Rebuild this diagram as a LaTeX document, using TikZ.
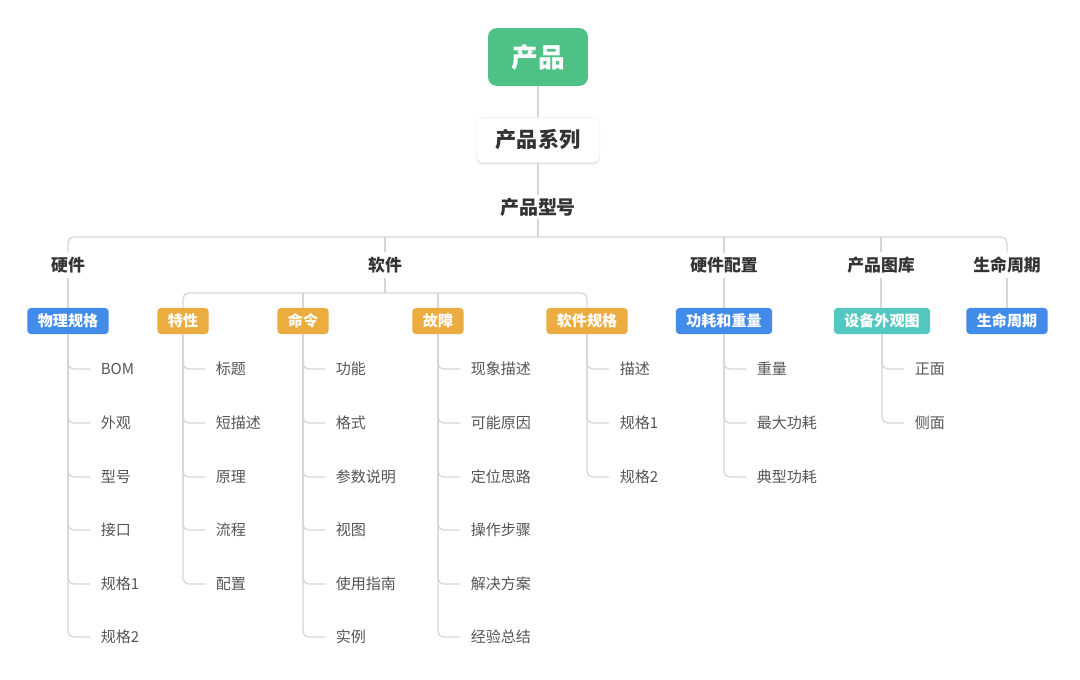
\documentclass[tikz,border=0pt]{standalone}
\usepackage{fontspec}
\setmainfont{Noto Sans CJK SC}
\usetikzlibrary{shadows}
\definecolor{lineg}{RGB}{214,214,214}
\definecolor{txt}{RGB}{51,51,51}
\definecolor{leaftxt}{RGB}{85,85,85}
\definecolor{greenbox}{RGB}{78,194,134}
\definecolor{bluebox}{RGB}{66,139,232}
\definecolor{orangebox}{RGB}{235,172,64}
\definecolor{tealbox}{RGB}{84,200,192}
\begin{document}
\begin{tikzpicture}[x=0.025cm, y=-0.025cm,
  root/.style = {fill=greenbox, text=white, font=\fontsize{19}{21}\selectfont\bfseries, rounded corners=6pt, minimum width=71pt, minimum height=41pt},
  series/.style = {fill=white, draw=black!6, text=txt, font=\fontsize{15}{17}\selectfont\bfseries, rounded corners=5pt, minimum width=88pt, minimum height=32pt, drop shadow={opacity=0.18, shadow xshift=0pt, shadow yshift=-1.5pt}},
  model/.style = {text=txt, font=\fontsize{13.5}{15}\selectfont\bfseries, inner sep=2pt},
  group/.style = {text=txt, font=\fontsize{12}{14}\selectfont\bfseries, inner sep=3pt},
  tag/.style = {text=white, font=\fontsize{10.7}{12}\selectfont\bfseries, rounded corners=2.5pt, inner xsep=7.5pt, inner ysep=0pt, minimum height=18.5pt},
  leaf/.style = {anchor=west, text=leaftxt, font=\fontsize{10.7}{12}\selectfont, inner xsep=7.5pt},
  conn/.style = {draw=lineg, line width=0.9pt, rounded corners=4pt}]
\useasboundingbox (0,0) rectangle (1080,679);

\coordinate (bus) at (538,237);
\coordinate (subbus) at (385,293);

\node[root] (cp) at (538,57) {产品};
\node[series] (cpxl) at (538,140) {产品系列};
\node[model] (cpxh) at (538,207) {产品型号};

\node[group] (yj) at (68,265) {硬件};
\node[group] (rj) at (385,265) {软件};
\node[group] (yjpz) at (724,265) {硬件配置};
\node[group] (cptk) at (881,265) {产品图库};
\node[group] (smzq) at (1007,265) {生命周期};

\node[tag, fill=bluebox] (wlgg) at (68,321) {物理规格};
\node[tag, fill=orangebox] (tx) at (183,321) {特性};
\node[tag, fill=orangebox] (ml) at (303,321) {命令};
\node[tag, fill=orangebox] (gz) at (438,321) {故障};
\node[tag, fill=orangebox] (rjgg) at (587,321) {软件规格};
\node[tag, fill=bluebox] (ghzl) at (724,321) {功耗和重量};
\node[tag, fill=tealbox] (sbwgt) at (882,321) {设备外观图};
\node[tag, fill=bluebox] (smzqt) at (1007,321) {生命周期};

\node[leaf] (wlgg1) at (90,369) {BOM};
\node[leaf] (wlgg2) at (90,423) {外观};
\node[leaf] (wlgg3) at (90,477) {型号};
\node[leaf] (wlgg4) at (90,530) {接口};
\node[leaf] (wlgg5) at (90,584) {规格1};
\node[leaf] (wlgg6) at (90,637) {规格2};

\node[leaf] (tx1) at (205,369) {标题};
\node[leaf] (tx2) at (205,423) {短描述};
\node[leaf] (tx3) at (205,477) {原理};
\node[leaf] (tx4) at (205,530) {流程};
\node[leaf] (tx5) at (205,584) {配置};

\node[leaf] (ml1) at (325,369) {功能};
\node[leaf] (ml2) at (325,423) {格式};
\node[leaf] (ml3) at (325,477) {参数说明};
\node[leaf] (ml4) at (325,530) {视图};
\node[leaf] (ml5) at (325,584) {使用指南};
\node[leaf] (ml6) at (325,637) {实例};

\node[leaf] (gz1) at (460,369) {现象描述};
\node[leaf] (gz2) at (460,423) {可能原因};
\node[leaf] (gz3) at (460,477) {定位思路};
\node[leaf] (gz4) at (460,530) {操作步骤};
\node[leaf] (gz5) at (460,584) {解决方案};
\node[leaf] (gz6) at (460,637) {经验总结};

\node[leaf] (rjgg1) at (609,369) {描述};
\node[leaf] (rjgg2) at (609,423) {规格1};
\node[leaf] (rjgg3) at (609,477) {规格2};

\node[leaf] (ghzl1) at (746,369) {重量};
\node[leaf] (ghzl2) at (746,423) {最大功耗};
\node[leaf] (ghzl3) at (746,477) {典型功耗};

\node[leaf] (sbwgt1) at (904,369) {正面};
\node[leaf] (sbwgt2) at (904,423) {侧面};

\draw[conn] (cp) -- (cpxl);
\draw[conn] (cpxl) -- (cpxh);
\draw[conn] (cpxh.south) -- (cpxh.south |- bus);
\draw[conn] (yj.north) -- (yj.north |- bus) -- (smzq.north |- bus) -- (smzq.north);
\draw[conn] (rj.north) -- (rj.north |- bus);
\draw[conn] (yjpz.north) -- (yjpz.north |- bus);
\draw[conn] (cptk.north) -- (cptk.north |- bus);

\draw[conn] (yj) -- (wlgg);
\draw[conn] (rj.south) -- (rj.south |- subbus);
\draw[conn] (tx.north) -- (tx.north |- subbus) -- (rjgg.north |- subbus) -- (rjgg.north);
\draw[conn] (ml.north) -- (ml.north |- subbus);
\draw[conn] (gz.north) -- (gz.north |- subbus);
\draw[conn] (yjpz) -- (ghzl);
\draw[conn] (cptk.south) -- (cptk.south |- sbwgt.north);
\draw[conn] (smzq) -- (smzqt);

\draw[conn] (wlgg.south) |- (wlgg1.west);
\draw[conn] (wlgg.south) |- (wlgg2.west);
\draw[conn] (wlgg.south) |- (wlgg3.west);
\draw[conn] (wlgg.south) |- (wlgg4.west);
\draw[conn] (wlgg.south) |- (wlgg5.west);
\draw[conn] (wlgg.south) |- (wlgg6.west);

\draw[conn] (tx.south) |- (tx1.west);
\draw[conn] (tx.south) |- (tx2.west);
\draw[conn] (tx.south) |- (tx3.west);
\draw[conn] (tx.south) |- (tx4.west);
\draw[conn] (tx.south) |- (tx5.west);

\draw[conn] (ml.south) |- (ml1.west);
\draw[conn] (ml.south) |- (ml2.west);
\draw[conn] (ml.south) |- (ml3.west);
\draw[conn] (ml.south) |- (ml4.west);
\draw[conn] (ml.south) |- (ml5.west);
\draw[conn] (ml.south) |- (ml6.west);

\draw[conn] (gz.south) |- (gz1.west);
\draw[conn] (gz.south) |- (gz2.west);
\draw[conn] (gz.south) |- (gz3.west);
\draw[conn] (gz.south) |- (gz4.west);
\draw[conn] (gz.south) |- (gz5.west);
\draw[conn] (gz.south) |- (gz6.west);

\draw[conn] (rjgg.south) |- (rjgg1.west);
\draw[conn] (rjgg.south) |- (rjgg2.west);
\draw[conn] (rjgg.south) |- (rjgg3.west);

\draw[conn] (ghzl.south) |- (ghzl1.west);
\draw[conn] (ghzl.south) |- (ghzl2.west);
\draw[conn] (ghzl.south) |- (ghzl3.west);

\draw[conn] (sbwgt.south) |- (sbwgt1.west);
\draw[conn] (sbwgt.south) |- (sbwgt2.west);
\end{tikzpicture}
\end{document}
